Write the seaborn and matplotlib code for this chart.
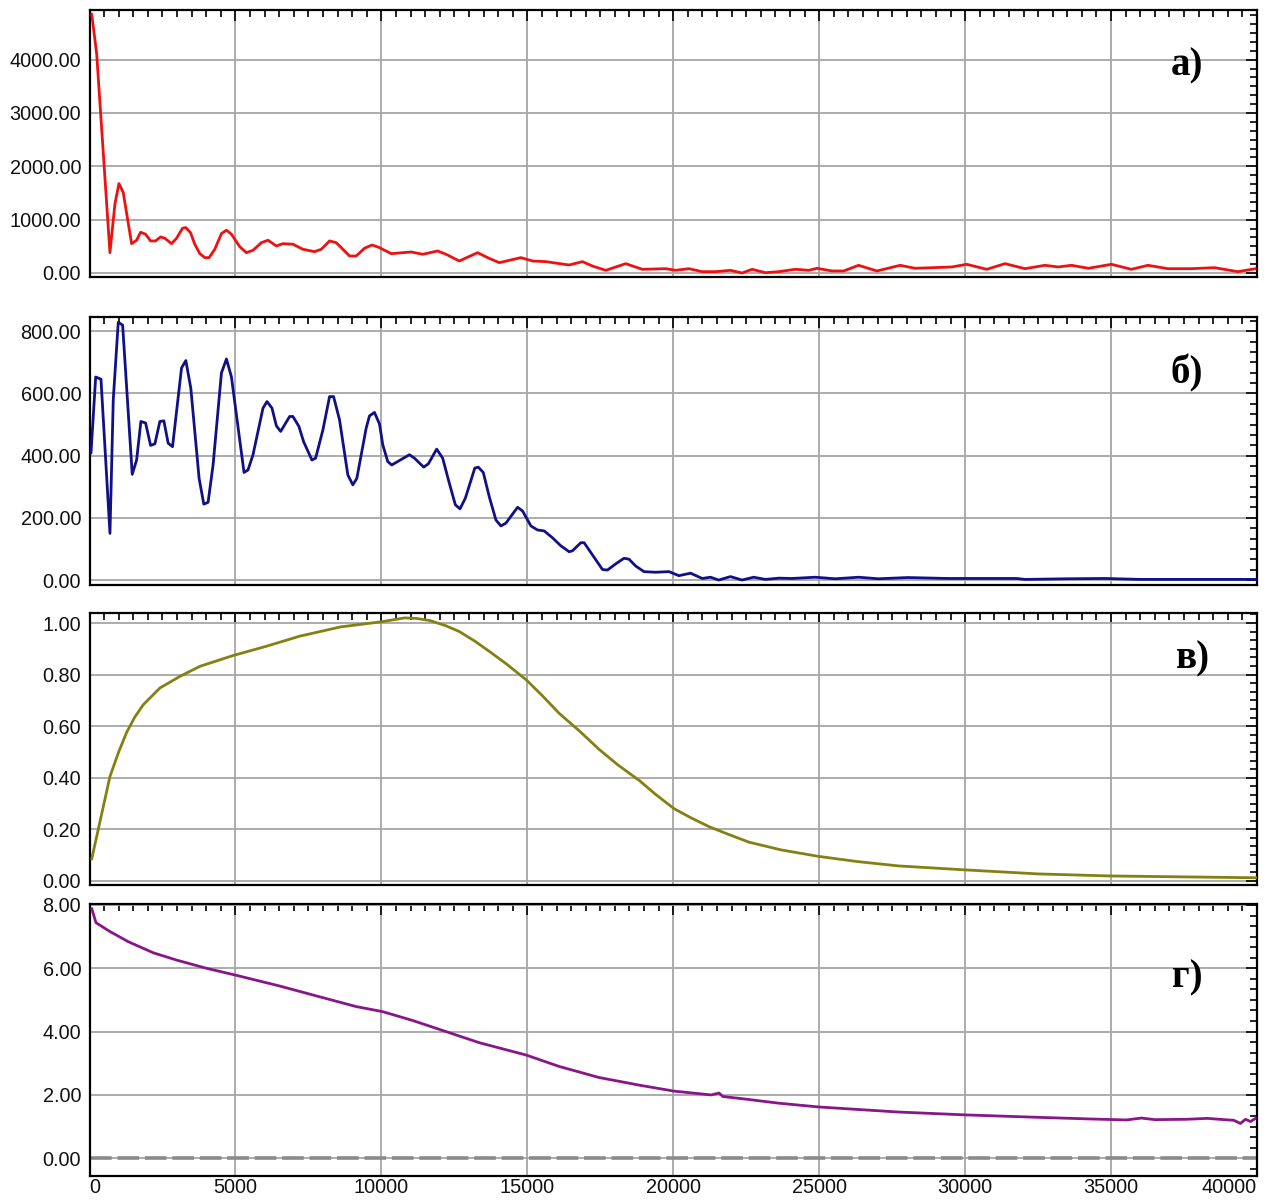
import numpy as np
import pandas as pd
import matplotlib
matplotlib.use("Agg")
import matplotlib.pyplot as plt
import seaborn as sns
from matplotlib.ticker import MultipleLocator, AutoMinorLocator, FormatStrFormatter

# ---------------- data ----------------
a_x = [75, 246, 700, 872, 1009, 1156, 1443, 1614, 1751, 1922, 2093, 2264, 2435, 2582, 2811, 2982,
       3187, 3300, 3461, 3608, 3779, 3950, 4098, 4292, 4520, 4692, 4863, 5147, 5376, 5602, 5889,
       6116, 6402, 6628, 6970, 7312, 7712, 7941, 8225, 8454, 8681, 8909, 9138, 9422, 9685, 9935,
       10336, 11020, 11417, 11930, 12216, 12670, 13297, 13639, 14039, 14781, 15178, 15634, 16433,
       16889, 17231, 17688, 18372, 18941, 19739, 20082, 20536, 20991, 21447, 21960, 22357, 22700,
       23158, 23613, 24184, 24641, 24925, 25437, 25838, 26350, 26977, 27775, 28288, 29541, 30054,
       30738, 31367, 32051, 32735, 33190, 33645, 34227, 35012, 35696, 36265, 36949, 37747, 38545,
       39344, 39950]
a_y = [4858, 4107, 381, 1296, 1677, 1508, 550, 614, 764, 727, 601, 601, 676, 651, 550, 651,
       839, 851, 757, 539, 363, 288, 288, 445, 739, 802, 727, 494, 381, 426, 569,
       614, 507, 550, 539, 445, 400, 445, 601, 569, 445, 319, 319, 464, 526, 475,
       363, 394, 351, 413, 351, 225, 381, 288, 194, 288, 225, 213, 150,
       213, 131, 50, 175, 69, 81, 50, 81, 25, 25, 50, 0, 69,
       6, 25, 69, 50, 88, 38, 38, 144, 38, 144, 88, 113, 163,
       69, 175, 81, 144, 113, 144, 88, 163, 69, 144, 81, 81, 100,
       25, 81]

b_x = [51, 212, 393, 701, 814, 985, 1135, 1464, 1614, 1761, 1922, 2093, 2240, 2411, 2548, 2695,
       2845, 3153, 3300, 3471, 3755, 3916, 4063, 4234, 4520, 4692, 4863, 5294, 5431, 5602, 5944,
       6081, 6252, 6402, 6549, 6857, 6970, 7175, 7336, 7620, 7747, 7997, 8225, 8362, 8567, 8851,
       9022, 9159, 9480, 9593, 9764, 9935, 10048, 10218, 10355, 10961, 11132, 11451, 11611, 11895,
       12100, 12329, 12534, 12694, 12876, 13201, 13320, 13491, 13696, 13925, 14096, 14267, 14666,
       14837, 15123, 15349, 15578, 15862, 16148, 16433, 16546, 16833, 16946, 17231, 17573, 17744,
       18029, 18314, 18485, 18713, 18998, 19397, 19853, 20194, 20594, 20991, 21276, 21561, 21960,
       22357, 22757, 23157, 23613, 24070, 24868, 25552, 26350, 27033, 28039, 29400, 30400, 31762,
       32051, 33500, 34775, 36000, 38000, 40000]
b_y = [408, 653, 646, 150, 580, 829, 820, 340, 386, 510, 505, 433, 438, 510, 512, 440,
       429, 682, 706, 617, 327, 244, 250, 370, 666, 711, 653, 346, 354, 403, 553,
       574, 553, 496, 478, 526, 526, 494, 445, 386, 392, 483, 590, 590, 515, 338,
       306, 327, 489, 528, 539, 502, 435, 381, 370, 403, 392, 363, 374, 421,
       392, 311, 242, 229, 263, 360, 363, 346, 268, 193, 174, 183, 234,
       222, 174, 161, 158, 136, 110, 91, 94, 120, 120, 81, 34, 32,
       52, 70, 67, 45, 27, 25, 27, 14, 22, 5, 9, 0, 11,
       0, 9, 2, 6, 5, 9, 4, 9, 4, 8, 5, 5, 5,
       2, 4, 5, 2, 2, 2]

c_x = [74, 301, 701, 1000, 1272, 1550, 1840, 2411, 3095, 3779, 4918, 6060, 7199, 8600, 10000,
       10800, 11200, 11650, 12200, 12670, 13200, 13700, 14300, 14960, 15500, 16090, 16800, 17460,
       18100, 18830, 19400, 20030, 20600, 21230, 21900, 22600, 23700, 24980, 26300, 27720, 29940,
       32500, 35000, 40000]
c_y = [0.084, 0.20, 0.405, 0.50, 0.576, 0.635, 0.683, 0.748, 0.793, 0.832, 0.874, 0.910, 0.949,
       0.985, 1.005, 1.02, 1.018, 1.01, 0.99, 0.967, 0.93, 0.89, 0.84, 0.78, 0.72, 0.65, 0.58,
       0.51, 0.45, 0.39, 0.335, 0.28, 0.245, 0.21, 0.18, 0.15, 0.12, 0.095, 0.075, 0.058, 0.043,
       0.027, 0.019, 0.012]

d_x = [75, 222, 701, 1328, 2182, 2980, 4006, 4976, 6515, 7883, 9138, 10048, 11074, 12216, 13354,
       14960, 16090, 17460, 18830, 20030, 21300, 21570, 21700, 22460, 23610, 24980, 26690, 27720,
       30000, 32600, 34334, 35530, 36040, 36500, 37560, 38300, 38864, 39200, 39433, 39604, 39780,
       39950]
d_y = [7.89, 7.44, 7.16, 6.84, 6.49, 6.26, 6.00, 5.79, 5.44, 5.10, 4.79, 4.63, 4.35, 4.00, 3.65,
       3.26, 2.90, 2.55, 2.31, 2.12, 2.00, 2.06, 1.95, 1.87, 1.74, 1.62, 1.52, 1.46,
       1.37, 1.29, 1.24, 1.21, 1.27, 1.22, 1.23, 1.26, 1.22, 1.20, 1.10, 1.23, 1.16,
       1.26]
d_baseline = 0.0

panel_labels = ["а)", "б)", "в)", "г)"]
x_ticks = [0, 5000, 10000, 15000, 20000, 25000, 30000, 35000, 40000]

# ---------------- style ----------------
sns.set_style("white")
plt.rcParams['font.family'] = ['Liberation Sans', 'DejaVu Sans']

fig = plt.figure(figsize=(12.74, 12), dpi=100)
L, W = 89.5 / 1274, (1257 - 89.5) / 1274
boxes = [(10, 277), (317, 585), (613, 885), (904, 1176)]
axes = []
for top, bot in boxes:
    axes.append(fig.add_axes([L, 1 - bot / 1200, W, (bot - top) / 1200]))

series = [
    (a_x, a_y, "#ee1111", (-75, 4930), 1000),
    (b_x, b_y, "#101088", (-16, 846), 200),
    (c_x, c_y, "#858012", (-0.016, 1.039), 0.2),
    (d_x, d_y, "#88168a", (-0.56, 8.03), 2.0),
]
label_pos = [0.94, 0.94, 0.945, 0.94]
label_y = [0.79, 0.79, 0.83, 0.73]

for i, (ax, (xs, ys, col, ylim, step)) in enumerate(zip(axes, series)):
    df = pd.DataFrame({"x": xs, "y": ys})
    if i == 3:
        ax.axhline(d_baseline, color="#8a8a8a", lw=2.6, ls=(0, (6, 1.6)), zorder=2)
    sns.lineplot(data=df, x="x", y="y", ax=ax, color=col, linewidth=2.0,
                 estimator=None, sort=False, zorder=3)
    ax.set_xlim(0, 40000)
    ax.set_ylim(*ylim)
    ax.set_xlabel("")
    ax.set_ylabel("")
    ax.xaxis.set_major_locator(MultipleLocator(5000))
    ax.xaxis.set_minor_locator(MultipleLocator(500))
    ax.yaxis.set_major_locator(MultipleLocator(step))
    ax.yaxis.set_minor_locator(AutoMinorLocator(6))
    ax.yaxis.set_major_formatter(FormatStrFormatter("%.2f"))
    ax.grid(True, which="major", color="#a6a6a6", lw=1.3)
    ax.set_axisbelow(True)
    ax.tick_params(which="both", direction="in", top=True, right=True,
                   color="black", width=1.2, labelsize=14.3, pad=6, labelcolor="#111111")
    ax.tick_params(axis="x", which="both", pad=1.5)
    ax.tick_params(which="major", length=8)
    ax.tick_params(which="minor", length=5)
    for s in ax.spines.values():
        s.set_color("black")
        s.set_linewidth(1.6)
    if i < 3:
        ax.tick_params(labelbottom=False)
    ax.text(label_pos[i], label_y[i], panel_labels[i], transform=ax.transAxes,
            ha="center", va="center", fontsize=28, fontweight="bold",
            family=["Liberation Serif", "DejaVu Serif"], color="black")

axd = axes[3]
axd.set_xticks(x_ticks)
axd.set_xticklabels([str(v) for v in x_ticks])
tl = axd.get_xticklabels()
tl[0].set_ha("left")
tl[-1].set_ha("right")

fig.savefig("out.png", dpi=100)
